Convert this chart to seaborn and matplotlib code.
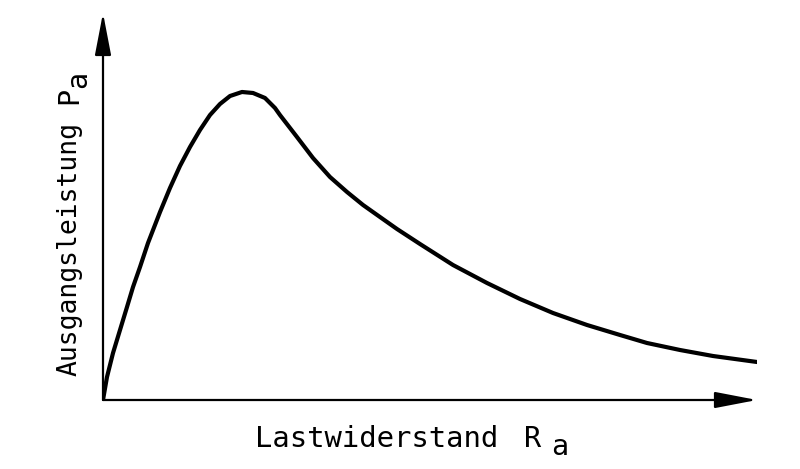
import numpy as np
import pandas as pd
import matplotlib.pyplot as plt
import seaborn as sns

# load resistance R_a vs output power P_a (arbitrary units)
r_a = [0.0, 0.061, 0.153, 0.260, 0.367, 0.459, 0.566, 0.688, 0.872, 1.024,
       1.177, 1.330, 1.483, 1.636, 1.789, 1.942, 2.125, 2.294, 2.477, 2.630,
       2.706, 2.966, 3.211, 3.471, 3.731, 3.976, 4.235, 4.495, 4.847, 5.352,
       5.872, 6.376, 6.881, 7.401, 7.905, 8.318, 8.823, 9.327, 10.0]
p_a = [0.0, 0.594, 1.214, 1.809, 2.403, 2.920, 3.437, 4.057, 4.858, 5.478,
       6.047, 6.537, 6.977, 7.364, 7.649, 7.855, 7.959, 7.933, 7.804, 7.545,
       7.364, 6.796, 6.253, 5.762, 5.375, 5.039, 4.729, 4.419, 4.031, 3.488,
       3.023, 2.610, 2.248, 1.938, 1.680, 1.473, 1.292, 1.137, 0.982]

x_label = 'Lastwiderstand'
y_label = 'Ausgangsleistung'
x_sym = 'R'
y_sym = 'P'
sub = 'a'

df = pd.DataFrame({'R': r_a, 'P': p_a})

sns.set_style('white')
plt.rcParams['font.family'] = ['DejaVu Sans Mono', 'DejaVu Sans']
plt.rcParams['text.color'] = 'black'

fig = plt.figure(figsize=(8, 4.69), dpi=100)
ax = fig.add_axes([103 / 800, 69 / 469, 654 / 800, 387 / 469])

sns.lineplot(data=df, x='R', y='P', ax=ax, color='black', lw=3,
             solid_capstyle='round', solid_joinstyle='round')

ax.set_xlim(0, 10)
ax.set_ylim(0, 10)
ax.set_xticks([])
ax.set_yticks([])
ax.set_xlabel('')
ax.set_ylabel('')
for s in ax.spines.values():
    s.set_visible(False)

# axes drawn as arrows
arrow = dict(arrowstyle='-|>,head_length=1.3,head_width=0.25', color='black',
             lw=1.6, mutation_scale=20, shrinkA=0, shrinkB=0)
ax.annotate('', xy=(1, 0), xytext=(0, 0), xycoords='axes fraction',
            arrowprops=arrow, annotation_clip=False)
ax.annotate('', xy=(0, 1), xytext=(0, 0), xycoords='axes fraction',
            arrowprops=arrow, annotation_clip=False)

W, H = 800, 469
# x label
fig.text(255 / W, 22 / H, x_label, fontsize=20.8, va='baseline', ha='left')
fig.text(524 / W, 22 / H, x_sym, fontsize=20.5, va='baseline', ha='left')
fig.text(551 / W, 14 / H, sub, fontsize=20.5, va='baseline', ha='left')
# y label
rot = dict(rotation=90, rotation_mode='anchor', va='baseline', ha='left')
fig.text(77 / W, (H - 376) / H, y_label, fontsize=19, **rot)
fig.text(77 / W, (H - 104) / H, y_sym, fontsize=20.5, **rot)
fig.text(86 / W, (H - 88) / H, sub, fontsize=20.5, **rot)

plt.savefig('out.png', dpi=100)
plt.close()
